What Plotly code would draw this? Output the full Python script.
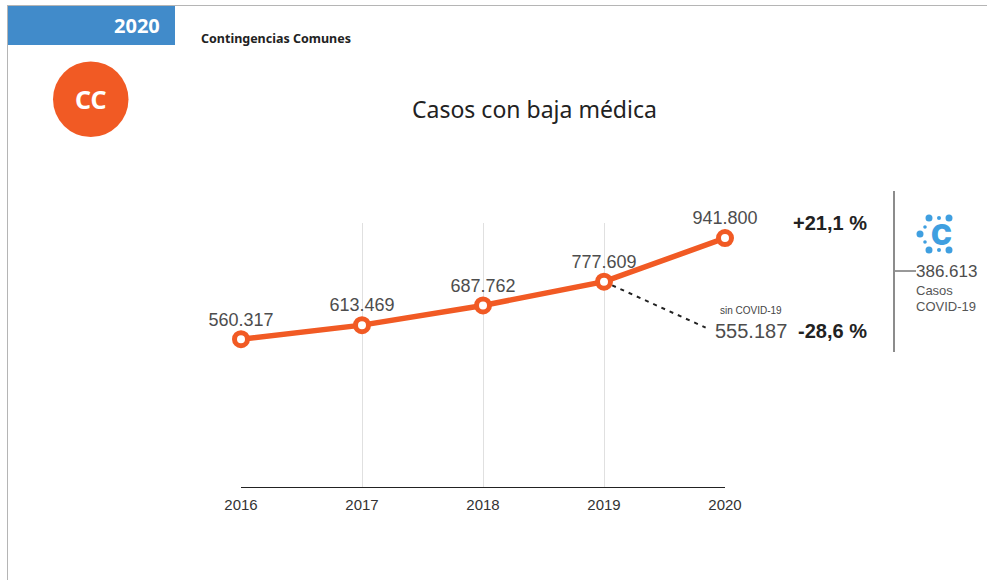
import plotly.graph_objects as go

years = [2016, 2017, 2018, 2019, 2020]
casos = [560317, 613469, 687762, 777609, 941800]
etiquetas = ["560.317", "613.469", "687.762", "777.609", "941.800"]
sin_covid_x = [2019, 2019.84]
sin_covid_y = [777609, 604000]

W, H = 987, 580
ORANGE = "#f15a24"
BLUE = "#418bca"
ICON = "#3f9fe0"
SANS = "Liberation Sans, Arial, sans-serif"
UB = "Noto Sans, Open Sans, sans-serif"

def px(x): return x / W
def py(y): return 1 - y / H

fig = go.Figure()
fig.add_trace(go.Scatter(x=sin_covid_x, y=sin_covid_y, mode="lines",
                         line=dict(color="#222222", width=2, dash="4px,5px"),
                         hoverinfo="skip", cliponaxis=False))
fig.add_trace(go.Scatter(x=years, y=casos, mode="lines+markers+text",
                         line=dict(color=ORANGE, width=5.5),
                         marker=dict(size=13, color="white", line=dict(color=ORANGE, width=5)),
                         text=etiquetas, textposition="top center",
                         textfont=dict(family=SANS, size=18, color="#4d4d4d"),
                         cliponaxis=False))

shapes = [
    dict(type="line", xref="paper", yref="paper", x0=px(7), x1=px(987), y0=py(5.5), y1=py(5.5),
         line=dict(color="#b5b5b5", width=1)),
    dict(type="line", xref="paper", yref="paper", x0=px(7.5), x1=px(7.5), y0=py(5), y1=py(580),
         line=dict(color="#b5b5b5", width=1)),
    dict(type="rect", xref="paper", yref="paper", x0=px(8), x1=px(175), y0=py(6), y1=py(45),
         fillcolor=BLUE, line=dict(width=0)),
    dict(type="circle", xref="paper", yref="paper", x0=px(53), x1=px(128.5), y0=py(61.5), y1=py(137),
         fillcolor=ORANGE, line=dict(width=0)),
    dict(type="line", xref="paper", yref="paper", x0=px(894), x1=px(894), y0=py(191), y1=py(352),
         line=dict(color="#666666", width=1.5)),
    dict(type="line", xref="paper", yref="paper", x0=px(895), x1=px(916), y0=py(271), y1=py(271),
         line=dict(color="#333333", width=1)),
]
# icono COVID: puntos alrededor de la C
for cx, cy, r in [(929, 218, 3.5), (949, 218, 3.5), (939, 218, 2), (929, 250, 3.5), (949, 250, 3.5),
                  (939, 250, 2), (920, 234, 3.5), (925, 227, 1.8), (925, 242, 1.8)]:
    shapes.append(dict(type="circle", xref="paper", yref="paper", x0=px(cx - r), x1=px(cx + r),
                       y0=py(cy - r), y1=py(cy + r), fillcolor=ICON, line=dict(width=0)))

def note(x, y, text, size, color="#222222", family=SANS, anchor="left", bold=False, weight=None):
    font = dict(family=family, size=size, color=color)
    if weight:
        font["weight"] = weight
    return dict(xref="paper", yref="paper", x=px(x), y=py(y), text=f"<b>{text}</b>" if bold else text,
                showarrow=False, xanchor=anchor, yanchor="middle", align=anchor, font=font)

annotations = [
    note(162, 25.5, "2020", 20, "white", UB, "right", True),
    note(199, 38.5, "Contingencias Comunes", 12.5, "#222222", UB, "left", True),
    note(90.5, 99, "CC", 25, "white", UB, "center", True),
    note(534, 109.5, "Casos con baja médica", 23, "#222222", UB, "center"),
    note(869, 223, "+21,1 %", 20, "#222222", SANS, "right", True),
    note(869, 331, "-28,6 %", 20, "#222222", SANS, "right", True),
    note(751, 310, "sin COVID-19", 10, "#444444", SANS, "center"),
    note(751, 331, "555.187", 20, "#4d4d4d", SANS, "center"),
    note(914, 271, "386.613", 17, "#4d4d4d", SANS, "left"),
    note(914, 290, "Casos", 13, "#555555", SANS, "left"),
    note(914, 306, "COVID-19", 13, "#555555", SANS, "left"),
    note(941, 234.5, "C", 28, ICON, "Inter, Liberation Sans, sans-serif", "center", False, 900),
]

fig.update_layout(
    width=W, height=H, margin=dict(l=0, r=0, t=0, b=0),
    paper_bgcolor="white", plot_bgcolor="white", showlegend=False,
    shapes=shapes, annotations=annotations,
    xaxis=dict(domain=[px(241), px(725)], range=[2016, 2020], tickvals=years, ticktext=[str(v) for v in years],
               showgrid=True, gridcolor="#e0e0e0", gridwidth=1, zeroline=False, automargin=False,
               showline=False, ticks="", ticklen=0, ticklabelstandoff=6,
               tickfont=dict(family=SANS, size=15, color="#333333")),
    yaxis=dict(domain=[py(487.7), py(222.7)], range=[0, 1000000], showgrid=False, zeroline=True, automargin=False,
               zerolinecolor="#222222", zerolinewidth=1, showticklabels=False, ticks=""),
)
fig.write_html("out.html", config={"displayModeBar": False},
               post_script="document.body.style.margin='0';document.body.style.overflow='hidden';")
